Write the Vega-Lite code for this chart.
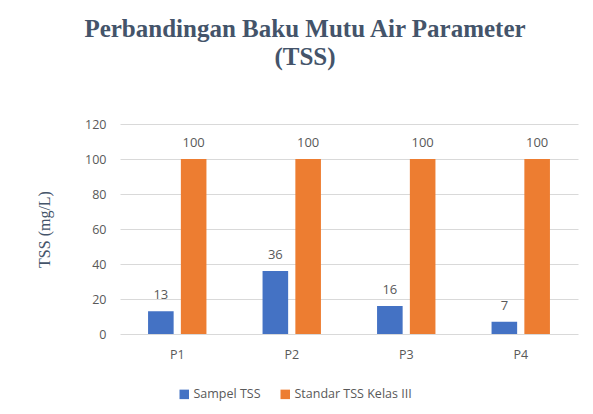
{
  "$schema": "https://vega.github.io/schema/vega-lite/v6.json",
  "width": 458,
  "height": 210,
  "autosize": {"type": "none"},
  "padding": {"left": 120, "top": 124, "right": 15, "bottom": 80},
  "background": "#ffffff",
  "config": {"view": {"stroke": null}},
  "title": {
    "text": ["Perbandingan Baku Mutu Air Parameter", "(TSS)"],
    "font": "Liberation Serif",
    "fontSize": 25,
    "fontWeight": "bold",
    "color": "#44546A",
    "anchor": "middle",
    "dx": -44,
    "offset": 48,
    "lineHeight": 28
  },
  "data": {
    "values": [
      {"lokasi": "P1", "seri": "Sampel TSS", "nilai": 13},
      {"lokasi": "P1", "seri": "Standar TSS Kelas III", "nilai": 100},
      {"lokasi": "P2", "seri": "Sampel TSS", "nilai": 36},
      {"lokasi": "P2", "seri": "Standar TSS Kelas III", "nilai": 100},
      {"lokasi": "P3", "seri": "Sampel TSS", "nilai": 16},
      {"lokasi": "P3", "seri": "Standar TSS Kelas III", "nilai": 100},
      {"lokasi": "P4", "seri": "Sampel TSS", "nilai": 7},
      {"lokasi": "P4", "seri": "Standar TSS Kelas III", "nilai": 100}
    ]
  },
  "encoding": {
    "x": {
      "field": "lokasi", "type": "nominal",
      "scale": {"paddingInner": 0.49, "paddingOuter": 0.245},
      "axis": {
        "title": null, "labelAngle": 0, "domain": false, "ticks": false,
        "labelPadding": 14, "labelFont": "Open Sans", "labelFontSize": 12.5, "labelColor": "#595959"
      }
    },
    "xOffset": {"field": "seri", "type": "nominal", "scale": {"paddingInner": 0.22}},
    "y": {
      "field": "nilai", "type": "quantitative",
      "scale": {"domain": [0, 120]},
      "axis": {
        "title": "TSS (mg/L)", "titleFont": "Liberation Serif", "titleFontSize": 16, "titleFontWeight": "normal",
        "titleColor": "#44546A", "titlePadding": 32,
        "values": [0, 20, 40, 60, 80, 100, 120],
        "domain": false, "ticks": false, "labelPadding": 14,
        "labelFont": "Open Sans", "labelFontSize": 12.5, "labelColor": "#595959",
        "gridColor": "#D9D9D9", "gridWidth": 1
      }
    }
  },
  "layer": [
    {
      "mark": {"type": "bar"},
      "encoding": {
        "color": {
          "field": "seri", "type": "nominal",
          "scale": {"domain": ["Sampel TSS", "Standar TSS Kelas III"], "range": ["#4472C4", "#ED7D31"]},
          "legend": {
            "title": null, "orient": "none", "direction": "horizontal",
            "legendX": 58, "legendY": 264,
            "symbolType": "square", "symbolSize": 90, "symbolStrokeWidth": 0,
            "labelFont": "Open Sans", "labelFontSize": 12.5, "labelColor": "#595959",
            "columnPadding": 18, "labelOffset": 3
          }
        }
      }
    },
    {
      "mark": {"type": "text", "dy": -16, "font": "Open Sans", "fontSize": 13, "color": "#595959"},
      "encoding": {"text": {"field": "nilai", "type": "quantitative"}}
    }
  ]
}
